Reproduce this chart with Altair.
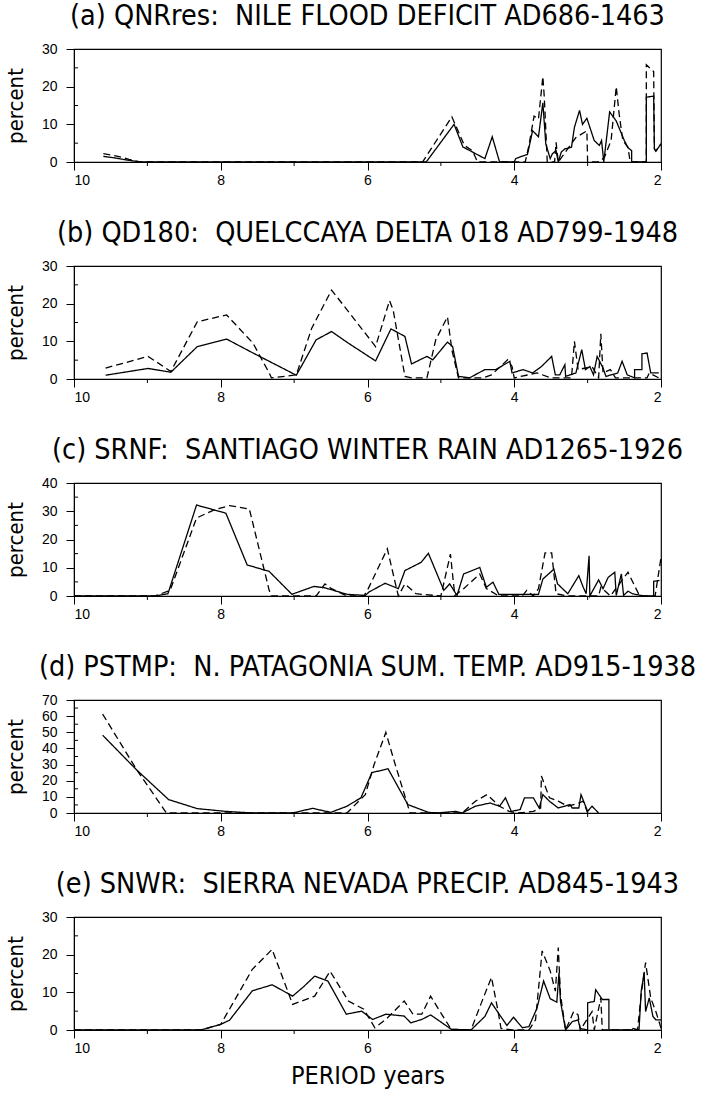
import altair as alt
import pandas as pd

# ---------------- data ----------------
titles = [
    "(a) QNRres:\u00a0 NILE FLOOD DEFICIT AD686-1463",
    "(b) QD180:\u00a0 QUELCCAYA DELTA 018 AD799-1948",
    "(c) SRNF:\u00a0 SANTIAGO WINTER RAIN AD1265-1926",
    "(d) PSTMP:\u00a0 N. PATAGONIA SUM. TEMP. AD915-1938",
    "(e) SNWR:\u00a0 SIERRA NEVADA PRECIP. AD845-1943",
]
y_max = [30, 30, 40, 70, 30]
x_major = [10, 8, 6, 4, 2]
x_minor = [9, 7, 5, 3]

a_sol_x = [9.6, 9.45, 9.3, 9.1, 5.2, 4.82, 4.70, 4.40, 4.30, 4.20, 4.0, 3.98, 3.90, 3.82, 3.75, 3.67, 3.61, 3.57, 3.51, 3.48, 3.43, 3.40, 3.36, 3.31, 3.22, 3.18, 3.11, 3.07, 3.01, 2.91, 2.84, 2.81, 2.78, 2.70, 2.61, 2.50, 2.45, 2.40, 2.40, 2.20, 2.20, 2.10, 2.09, 2.07, 2.0]
a_sol_y = [1.5, 1.1, 0.6, 0, 0, 10, 4, 0.9, 6.7, 0, 0, 0.9, 1.5, 2, 8.3, 6.7, 15.7, 4.8, 0.9, 2.2, 3, 0, 2.6, 3.5, 3.9, 9.2, 13.7, 10, 11.6, 5.7, 4.4, 5.7, 0, 13.3, 10.9, 5.7, 3.8, 3, 0, 0, 17.2, 17.5, 3.5, 2.9, 4.8]
a_dash_x = [9.6, 9.4, 9.25, 9.1, 5.25, 4.85, 4.68, 4.57, 4.50, 3.85, 3.80, 3.73, 3.67, 3.61, 3.59, 3.55, 3.45, 3.43, 3.40, 3.16, 3.01, 3.0, 2.84, 2.77, 2.68, 2.61, 2.57, 2.52, 2.45, 2.42, 2.2, 2.2, 2.10, 2.09, 2.07, 2.0]
a_dash_y = [2.2, 1.5, 0.7, 0, 0, 12, 4.4, 3, 0, 0, 4.4, 12.2, 11.4, 22.7, 17, 0, 0, 5.2, 0, 6.5, 8.3, 0, 0, 1.3, 5.7, 20, 12.7, 5.7, 3.9, 0, 0, 25.8, 24, 3.5, 2.9, 4.8]

b_sol_x = [9.57, 8.99, 8.68, 8.32, 7.92, 7.56, 6.97, 6.70, 6.49, 6.26, 5.89, 5.68, 5.49, 5.40, 5.19, 5.11, 4.91, 4.84, 4.76, 4.61, 4.40, 4.25, 4.06, 4.03, 3.88, 3.75, 3.63, 3.49, 3.44, 3.38, 3.31, 3.30, 3.16, 3.08, 3.03, 2.97, 2.92, 2.87, 2.79, 2.75, 2.59, 2.53, 2.46, 2.36, 2.36, 2.26, 2.26, 2.19, 2.14, 2.03]
b_sol_y = [1.0, 2.8, 1.8, 8.6, 10.6, 6.9, 1.0, 10.4, 12.6, 9.5, 4.8, 13.3, 11.3, 4.0, 6.0, 5.1, 9.8, 8.6, 0.7, 0.3, 2.5, 2.5, 4.7, 1.6, 2.5, 1.6, 3.3, 6.0, 1.1, 1.1, 3.8, 0.7, 1.6, 7.8, 2.5, 3.3, 1.1, 6.0, 2.9, 0.7, 1.6, 4.7, 1.1, 0.3, 2.5, 2.5, 6.7, 6.9, 1.6, 1.6]
b_dash_x = [9.57, 8.99, 8.68, 8.32, 7.92, 7.56, 7.34, 7.31, 7.12, 6.97, 6.76, 6.49, 6.26, 5.89, 5.70, 5.65, 5.49, 5.40, 5.19, 5.07, 4.91, 4.85, 4.76, 4.43, 4.31, 4.09, 4.03, 4.0, 3.69, 3.50, 3.22, 3.18, 3.13, 2.94, 2.85, 2.82, 2.79, 2.69, 2.62, 2.19, 2.16, 2.03]
b_dash_y = [2.9, 6.0, 2.0, 15.2, 17.0, 9.5, 1.6, 0.3, 0.7, 1.1, 13.5, 23.6, 17.9, 8.6, 20.8, 18.3, 0.7, 0.3, 0.3, 10.4, 16.5, 7.7, 0.3, 0.3, 1.1, 5.1, 3.3, 0.3, 1.6, 0.3, 0.3, 10, 2.5, 3.3, 0.3, 12, 1.6, 2.5, 0.3, 0.3, 1.6, 0.3]

c_sol_x = [10, 8.90, 8.72, 8.33, 7.93, 7.64, 7.34, 7.03, 6.73, 6.58, 6.28, 6.03, 5.98, 5.76, 5.58, 5.49, 5.27, 5.17, 4.96, 4.88, 4.78, 4.69, 4.47, 4.38, 4.29, 4.21, 3.92, 3.67, 3.61, 3.46, 3.41, 3.27, 3.12, 3.06, 3.02, 2.98, 2.97, 2.85, 2.79, 2.72, 2.63, 2.61, 2.54, 2.51, 2.45, 2.39, 2.23, 2.10, 2.10, 2.02]
c_sol_y = [0, 0, 0.8, 32.2, 29.3, 11, 8.7, 0.6, 3.4, 2.9, 0.6, 0.2, 1.4, 4.5, 2.6, 9, 11.9, 15.1, 2, 4.3, 0.2, 7.8, 10.1, 3.1, 4.9, 0.6, 0.6, 0.6, 6, 9.5, 4.3, 0.8, 7.2, 3.1, 0.8, 14.2, 0, 5.7, 2.6, 6.6, 8.4, 0.2, 7.8, 0.2, 1.7, 0.8, 0, 0, 5.2, 5.5]
c_dash_x = [10, 8.90, 8.69, 8.33, 8.09, 7.88, 7.61, 7.34, 7.31, 6.70, 6.58, 6.49, 6.28, 6.05, 5.99, 5.73, 5.58, 5.49, 5.34, 5.0, 4.87, 4.81, 4.69, 4.47, 4.38, 4.21, 3.89, 3.83, 3.74, 3.67, 3.58, 3.49, 3.43, 3.27, 2.85, 2.82, 2.69, 2.45, 2.35, 2.29, 2.08, 2.0]
c_dash_y = [0, 0, 2, 27.6, 30.5, 32, 30.8, 2, 0, 0, 4.3, 2.6, 0, 0, 2.6, 16.7, 0, 4.3, 0.8, 0, 14.8, 0.2, 2.6, 7.8, 2.6, 0, 0, 2, 0, 2.6, 15.3, 15.3, 0.8, 0, 0, 3.1, 0, 8.4, 3.1, 0, 0, 13.6]

d_sol_x = [9.61, 9.14, 8.71, 8.32, 7.93, 7.56, 7.02, 6.75, 6.50, 6.28, 6.09, 5.94, 5.72, 5.45, 5.17, 5.05, 4.80, 4.71, 4.53, 4.33, 4.20, 4.12, 4.04, 3.92, 3.86, 3.74, 3.66, 3.61, 3.52, 3.40, 3.24, 3.21, 3.12, 3.09, 3.00, 2.94, 2.85]
d_sol_y = [48.2, 26.4, 8.3, 2.7, 1, 0, 0, 2.9, 0.4, 4.2, 9.4, 25, 27.4, 5.2, 0.4, 0, 1, 0, 4.2, 6.2, 4.2, 9.4, 1, 2.1, 9.4, 9.4, 3.1, 11.4, 7.3, 3.1, 5.2, 3.1, 3.1, 11.4, 1, 4.2, 0]
d_dash_x = [9.61, 9.14, 8.74, 6.28, 6.03, 5.91, 5.75, 5.63, 5.42, 4.71, 4.53, 4.37, 4.20, 4.07, 3.95, 3.74, 3.64, 3.63, 3.52, 3.40, 3.27, 3.12, 3.06, 3.00]
d_dash_y = [61.3, 26.4, 0, 0, 11.4, 30, 49.9, 31.2, 0, 0, 7.3, 11.4, 4.2, 1, 0, 1, 3.1, 22.9, 9.4, 7.3, 4.2, 6.2, 7.3, 0]

e_sol_x = [10, 8.27, 8.0, 7.88, 7.57, 7.30, 7.02, 6.87, 6.72, 6.54, 6.29, 6.08, 5.93, 5.75, 5.50, 5.41, 5.26, 5.14, 5.02, 4.86, 4.59, 4.40, 4.31, 4.10, 4.01, 3.89, 3.80, 3.69, 3.60, 3.51, 3.42, 3.39, 3.37, 3.30, 3.21, 3.13, 3.10, 3.00, 3.00, 2.91, 2.89, 2.80, 2.71, 2.71, 2.40, 2.38, 2.30, 2.27, 2.23, 2.21, 2.16, 2.11, 2.07, 2.0]
e_sol_y = [0, 0, 1.5, 2.6, 10.4, 12, 9, 11.5, 14.3, 13, 4.2, 5, 2.8, 4.2, 3.7, 1.9, 2.8, 4, 2.4, 0.2, 0, 3.6, 7.2, 1.2, 3.4, 0.6, 0.9, 5.8, 13, 8.3, 7.4, 15.2, 7.6, 0, 2.2, 2.7, 0.4, 0, 7.2, 7.6, 10.7, 8.1, 8.1, 0, 0, 0.4, 0, 10.3, 15.2, 4.9, 8.5, 3.6, 2.7, 2.7]
e_dash_x = [10, 8.27, 8.0, 7.57, 7.30, 7.02, 6.72, 6.51, 6.26, 6.05, 5.90, 5.75, 5.50, 5.38, 5.26, 5.14, 4.99, 4.86, 4.59, 4.44, 4.31, 4.22, 4.18, 4.03, 3.80, 3.71, 3.62, 3.51, 3.44, 3.40, 3.37, 3.30, 3.19, 3.13, 3.10, 2.94, 2.91, 2.82, 2.80, 2.32, 2.27, 2.21, 2.14, 2.07, 2.0]
e_dash_y = [0, 0, 1.5, 16.1, 21.4, 6.8, 9, 15.6, 7.7, 5.5, 0.6, 2.8, 7.7, 4.2, 4.2, 9, 4.2, 0.2, 0, 7.6, 14, 4.9, 0.4, 0, 0, 2.7, 21, 15.7, 10.3, 21.9, 9.4, 0, 4.9, 4, 0, 4.9, 0, 8.5, 0, 0, 9.4, 17.9, 8.5, 4.9, 0.5]

series = [
    (a_sol_x, a_sol_y, a_dash_x, a_dash_y),
    (b_sol_x, b_sol_y, b_dash_x, b_dash_y),
    (c_sol_x, c_sol_y, c_dash_x, c_dash_y),
    (d_sol_x, d_sol_y, d_dash_x, d_dash_y),
    (e_sol_x, e_sol_y, e_dash_x, e_dash_y),
]

# ---------------- styling ----------------
NARROW = "Liberation Sans Narrow, Arial Narrow, DejaVu Sans Condensed, Liberation Sans, sans-serif"
REG = "Liberation Sans, Arial, sans-serif"
W, H = 587, 113


def panel(k):
    sx, sy, dx, dy = series[k]
    ymax = y_max[k]
    last = k == len(series) - 1
    rows = []
    for i, (x, y) in enumerate(zip(sx, sy)):
        rows.append({"s": "solid", "x": x, "y": y, "i": i})
    for i, (x, y) in enumerate(zip(dx, dy)):
        rows.append({"s": "dashed", "x": x, "y": y, "i": i})
    df = pd.DataFrame(rows)

    xscale = alt.Scale(domain=[2, 10], reverse=True, nice=False, zero=False)
    yscale = alt.Scale(domain=[0, ymax], nice=False)

    xaxis = alt.Axis(
        values=x_major, format="d", tickSize=8, labelPadding=3,
        labelFontSize=14, labelFont=REG, labelColor="black",
        domainColor="black", tickColor="black", grid=False,
        title="PERIOD years" if last else None,
        titleFont=NARROW, titleFontSize=25, titleFontWeight="normal",
        titleColor="black", titlePadding=8,
    )
    yaxis = alt.Axis(
        values=list(range(0, ymax + 1, 10)), tickSize=8, labelPadding=9,
        labelFontSize=14, labelFont=REG, labelColor="black",
        domainColor="black", tickColor="black", grid=False,
        title="percent", titleFont=NARROW, titleFontSize=22,
        titleFontWeight="normal", titleColor="black", titlePadding=14,
    )

    lines = alt.Chart(df).mark_line(color="black", strokeWidth=1.3).encode(
        x=alt.X("x:Q", scale=xscale, axis=xaxis),
        y=alt.Y("y:Q", scale=yscale, axis=yaxis),
        detail="s:N",
        order="i:Q",
        strokeDash=alt.StrokeDash(
            "s:N", scale=alt.Scale(domain=["solid", "dashed"], range=[[1, 0], [7, 4]]),
            legend=None,
        ),
    )

    xm = pd.DataFrame({"x": x_minor})
    xminor = alt.Chart(xm).mark_rule(color="black", strokeWidth=1).encode(
        x=alt.X("x:Q", scale=xscale, axis=xaxis),
        y=alt.value(H), y2=alt.value(H + 4),
    )
    ym = pd.DataFrame({"y": [v + 5 for v in range(0, ymax, 10)]})
    yminor = alt.Chart(ym).mark_rule(color="black", strokeWidth=1).encode(
        y=alt.Y("y:Q", scale=yscale, axis=yaxis),
        x=alt.value(0), x2=alt.value(4),
    )

    return alt.layer(lines, xminor, yminor).properties(
        width=W, height=H,
        title=alt.TitleParams(
            titles[k], font=NARROW, fontSize=28.5, fontWeight="normal",
            color="black", anchor="middle", offset=12,
        ),
    )


chart = alt.vconcat(*[panel(k) for k in range(5)], spacing=29).properties(
    padding={"left": 3, "top": 0, "right": 5, "bottom": 0},
    background="white",
).configure_view(stroke="black", strokeWidth=1.2)

chart.save("out.html", embed_options={"renderer": "svg", "actions": False})
